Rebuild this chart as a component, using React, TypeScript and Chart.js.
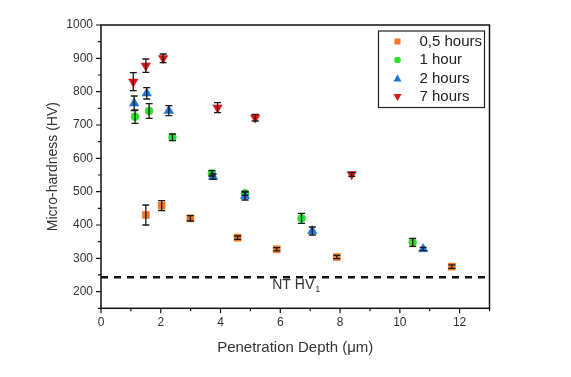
import React, { useEffect, useRef } from 'react';
import { Chart, registerables } from 'chart.js';

Chart.register(...registerables);

// ---- data ----
const seriesLabels = ['0,5 hours', '1 hour', '2 hours', '7 hours'];

const halfHourX = [1.5, 2.03, 2.99, 4.57, 5.88, 7.89, 11.74];
const halfHourY = [430, 458, 420, 362, 327, 304, 275];
const halfHourErr = [30, 15, 8, 5, 5, 5, 5];

const oneHourX = [1.14, 1.61, 2.39, 3.71, 4.82, 6.71, 10.43];
const oneHourY = [725, 742, 663, 555, 495, 420, 348];
const oneHourErr = [20, 22, 10, 8, 6, 15, 12];

const twoHoursX = [1.11, 1.53, 2.27, 3.75, 4.82, 7.07, 10.78];
const twoHoursY = [765, 795, 743, 545, 487, 382, 328];
const twoHoursErr = [22, 17, 15, 8, 12, 12, 5];

const sevenHoursX = [1.08, 1.5, 2.08, 3.9, 5.16, 8.39];
const sevenHoursY = [830, 878, 900, 752, 722, 552];
const sevenHoursErr = [27, 20, 13, 15, 10, 6];

const ntHv = 243;
const xTickLabels = [0, 2, 4, 6, 8, 10, 12];
const yTickLabels = [200, 300, 400, 500, 600, 700, 800, 900, 1000];

const colors = ['#F07522', '#2EE02E', '#1F72D8', '#D81A1A'];
const FONT = '"Liberation Sans", Arial, sans-serif';

const seriesX = [halfHourX, oneHourX, twoHoursX, sevenHoursX];
const seriesY = [halfHourY, oneHourY, twoHoursY, sevenHoursY];
const seriesErr = [halfHourErr, oneHourErr, twoHoursErr, sevenHoursErr];

function toPoints(xs: number[], ys: number[]) {
  return xs.map((x, i) => ({ x, y: ys[i] }));
}

function drawMarker(ctx: CanvasRenderingContext2D, kind: number, x: number, y: number, color: string) {
  ctx.save();
  ctx.fillStyle = color;
  ctx.beginPath();
  if (kind === 0) {
    ctx.rect(x - 3, y - 3, 6, 6);
  } else if (kind === 1) {
    ctx.arc(x, y, 3.3, 0, Math.PI * 2);
  } else if (kind === 2) {
    ctx.moveTo(x, y - 4);
    ctx.lineTo(x + 4, y + 3);
    ctx.lineTo(x - 4, y + 3);
    ctx.closePath();
  } else {
    ctx.moveTo(x, y + 4);
    ctx.lineTo(x + 4, y - 3);
    ctx.lineTo(x - 4, y - 3);
    ctx.closePath();
  }
  ctx.fill();
  ctx.restore();
}

export default function App() {
  const ref = useRef<HTMLCanvasElement>(null);

  useEffect(() => {
    if (!ref.current) return;

    const errorBars = {
      id: 'errorBars',
      afterDatasetsDraw(chart: any) {
        const ctx = chart.ctx;
        const ys = chart.scales.y;
        ctx.save();
        ctx.strokeStyle = '#1a1a1a';
        ctx.lineWidth = 1.3;
        for (let s = 0; s < 4; s++) {
          const meta = chart.getDatasetMeta(s);
          seriesY[s].forEach((v, j) => {
            const el = meta.data[j];
            if (!el) return;
            const px = el.x;
            const top = ys.getPixelForValue(v + seriesErr[s][j]);
            const bot = ys.getPixelForValue(v - seriesErr[s][j]);
            ctx.beginPath();
            ctx.moveTo(px, top);
            ctx.lineTo(px, bot);
            ctx.moveTo(px - 3.5, top);
            ctx.lineTo(px + 3.5, top);
            ctx.moveTo(px - 3.5, bot);
            ctx.lineTo(px + 3.5, bot);
            ctx.stroke();
          });
        }
        ctx.restore();
      },
    };

    const decor = {
      id: 'decor',
      afterDraw(chart: any) {
        const ctx = chart.ctx;
        const a = chart.chartArea;
        const xs = chart.scales.x;
        const ys = chart.scales.y;
        ctx.save();
        // frame
        ctx.strokeStyle = '#111';
        ctx.lineWidth = 1.5;
        ctx.strokeRect(a.left, a.top, a.right - a.left, a.bottom - a.top);
        // ticks
        ctx.lineWidth = 1.2;
        ctx.beginPath();
        for (let v = 150; v <= 1000; v += 50) {
          const py = ys.getPixelForValue(v);
          const len = v % 100 === 0 ? 5 : 3;
          ctx.moveTo(a.left, py);
          ctx.lineTo(a.left - len, py);
        }
        for (let v = 0; v <= 13; v += 1) {
          const px = xs.getPixelForValue(v);
          const len = v % 2 === 0 ? 5 : 3;
          ctx.moveTo(px, a.bottom);
          ctx.lineTo(px, a.bottom + len);
        }
        ctx.stroke();

        // NT HV label
        const lx = xs.getPixelForValue(5.73);
        const ly = ys.getPixelForValue(ntHv) + 12;
        ctx.fillStyle = '#333';
        ctx.font = `14px ${FONT}`;
        ctx.textBaseline = 'alphabetic';
        ctx.textAlign = 'left';
        ctx.fillText('NT HV', lx, ly);
        const w = ctx.measureText('NT HV').width;
        ctx.font = `9px ${FONT}`;
        ctx.fillText('1', lx + w + 1, ly + 3);

        // legend
        const bx = a.right - 111;
        const by = a.top + 6;
        const bw = 106;
        const bh = 76.5;
        ctx.fillStyle = '#fff';
        ctx.fillRect(bx, by, bw, bh);
        ctx.strokeStyle = '#222';
        ctx.lineWidth = 1.2;
        ctx.strokeRect(bx, by, bw, bh);
        ctx.font = `15px ${FONT}`;
        ctx.textBaseline = 'middle';
        seriesLabels.forEach((lab, i) => {
          const rowY = by + 10.5 + i * 18.5;
          drawMarker(ctx, i, bx + 19, rowY, colors[i]);
          ctx.fillStyle = '#222';
          ctx.fillText(lab, bx + 41, rowY);
        });
        ctx.restore();
      },
    };

    const styles: any[] = [
      { pointStyle: 'rect', pointRadius: 5, rotation: 0 },
      { pointStyle: 'circle', pointRadius: 4, rotation: 0 },
      { pointStyle: 'triangle', pointRadius: 5.5, rotation: 0 },
      { pointStyle: 'triangle', pointRadius: 5.5, rotation: 180 },
    ];

    const datasets: any[] = seriesLabels.map((label, i) => ({
      type: 'scatter',
      label,
      data: toPoints(seriesX[i], seriesY[i]),
      backgroundColor: colors[i],
      borderColor: colors[i],
      borderWidth: 0.5,
      pointStyle: styles[i].pointStyle,
      pointRadius: styles[i].pointRadius,
      pointRotation: styles[i].rotation,
      order: 4 - i,
    }));

    datasets.push({
      type: 'line',
      label: 'NT HV',
      data: [
        { x: 0, y: ntHv },
        { x: 13, y: ntHv },
      ],
      borderColor: '#111',
      borderWidth: 2.5,
      borderDash: [7, 6],
      pointRadius: 0,
      fill: false,
      order: 10,
    });

    const tickFont = { family: FONT, size: 12 };

    const chart = new Chart(ref.current, {
      type: 'scatter',
      data: { datasets },
      options: {
        animation: false,
        responsive: false,
        devicePixelRatio: 1,
        layout: { padding: { left: 0, top: 25, right: 81.5, bottom: 0 } },
        plugins: {
          legend: { display: false },
          tooltip: { enabled: false },
        },
        scales: {
          x: {
            type: 'linear',
            min: 0,
            max: 13,
            grid: { display: true, drawOnChartArea: false, drawTicks: false },
            border: { display: false },
            ticks: {
              stepSize: 1,
              padding: 7,
              color: '#333',
              font: tickFont,
              autoSkip: false,
              maxRotation: 0,
              callback: (v: any) => (xTickLabels.includes(Number(v)) ? String(v) : ''),
            },
            title: {
              display: true,
              text: 'Penetration Depth (\u03bcm)',
              color: '#333',
              font: { family: FONT, size: 15 },
              padding: { top: 0, bottom: 20 },
            },
            afterFit: (s: any) => {
              s.height = 68.7;
            },
          },
          y: {
            type: 'linear',
            min: 150,
            max: 1000,
            grid: { display: true, drawOnChartArea: false, drawTicks: false },
            border: { display: false },
            ticks: {
              stepSize: 50,
              padding: 8,
              color: '#333',
              font: tickFont,
              autoSkip: false,
              callback: (v: any) => (yTickLabels.includes(Number(v)) ? String(v) : ''),
            },
            title: {
              display: true,
              text: 'Micro-hardness (HV)',
              color: '#333',
              font: { family: FONT, size: 14 },
              padding: { top: 44.6, bottom: 0 },
            },
            afterFit: (s: any) => {
              s.width = 101;
            },
          },
        },
      },
      plugins: [errorBars, decor],
    } as any);

    return () => chart.destroy();
  }, []);

  return (
    <div style={{ position: 'fixed', left: 0, top: 0, width: 571, height: 377, background: '#fff' }}>
      <canvas ref={ref} width={571} height={377} style={{ width: 571, height: 377, display: 'block' }} />
    </div>
  );
}
